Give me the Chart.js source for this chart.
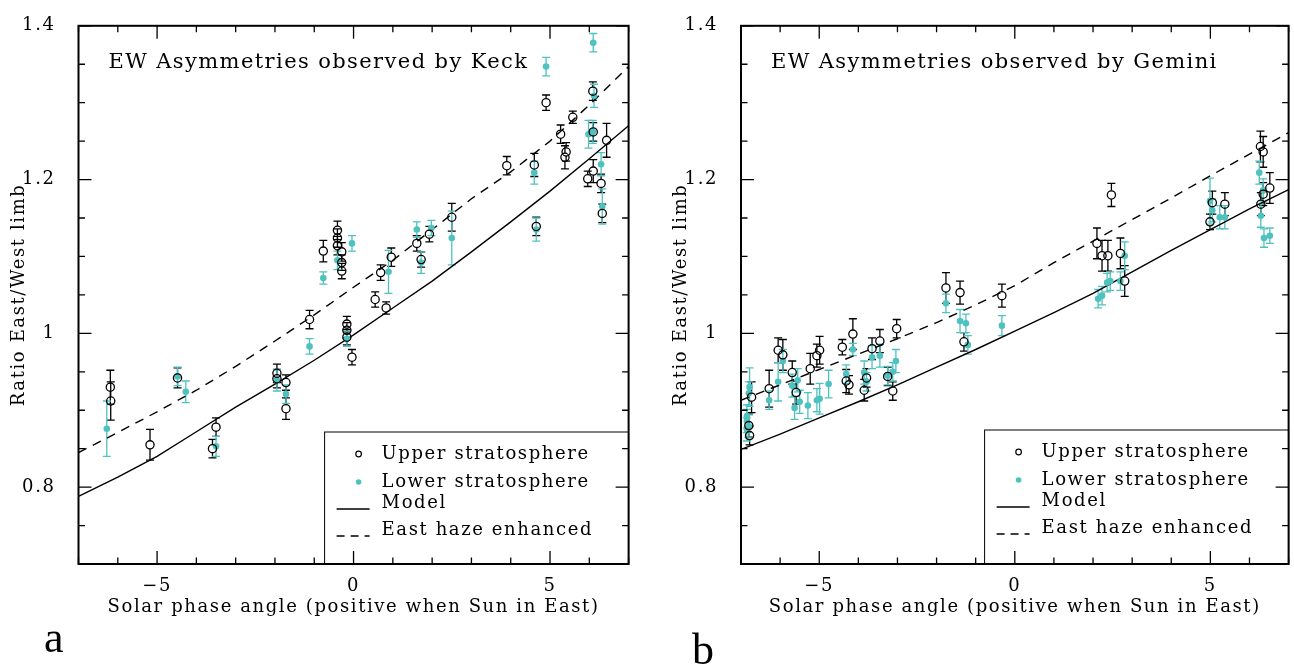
<!DOCTYPE html>
<html>
<head>
<meta charset="utf-8">
<script src="https://cdn.jsdelivr.net/npm/chart.js@4.4.0/dist/chart.umd.min.js"></script>
<style>
  body { margin: 0; background: #fff; width: 1294px; height: 668px; overflow: hidden; position: relative; }
  canvas { position: absolute; top: 0; }
  #chartA { left: 0; }
  #chartB { left: 662px; }
  .letter { position: absolute; font-family: 'Liberation Serif', serif; font-size: 44px; line-height: 44px; color: #000; }
</style>
</head>
<body>
<canvas id="chartA" width="640" height="668"></canvas>
<canvas id="chartB" width="632" height="668"></canvas>
<div class="letter" style="left:44px;top:616px">a</div>
<div class="letter" style="left:692px;top:628px">b</div>
<script>
// ---- data ----
const lineX = [-7, -6, -5, -4, -3, -2, -1, 0, 1, 2, 3, 4, 5, 6, 7];

// panel a: Keck
const keckModel = [0.788, 0.813, 0.840, 0.872, 0.904, 0.934, 0.965, 0.998, 1.033, 1.068, 1.106, 1.145, 1.185, 1.227, 1.270];
const keckHaze  = [0.845, 0.871, 0.898, 0.926, 0.957, 0.990, 1.024, 1.060, 1.095, 1.135, 1.175, 1.210, 1.250, 1.297, 1.347];

const keckUpperX   = [-6.19, -6.18, -5.18, -4.48, -3.50, -3.59, -1.95, -1.95, -1.72, -1.72, -1.12, -0.17, -0.17, -0.17, -0.04, -0.77, -0.41, -0.41, -0.41, -0.30, -0.30, -0.30, 0.55, 0.83, 0.69, 0.96, 1.61, 1.72, 1.93, 2.50, 3.90, 4.60, 4.65, 4.90, 5.27, 5.38, 5.41, 5.58, 6.09, 6.10, 5.96, 6.10, 6.30, 6.33, 6.44];
const keckUpperY   = [0.930, 0.912, 0.855, 0.942, 0.878, 0.850, 0.948, 0.941, 0.936, 0.902, 1.018, 1.012, 1.004, 0.995, 0.969, 1.107, 1.134, 1.124, 1.114, 1.106, 1.092, 1.081, 1.044, 1.033, 1.079, 1.099, 1.117, 1.096, 1.129, 1.151, 1.218, 1.219, 1.139, 1.300, 1.259, 1.229, 1.236, 1.281, 1.315, 1.262, 1.201, 1.211, 1.195, 1.156, 1.251];
const keckUpperErr = [0.022, 0.025, 0.020, 0.013, 0.012, 0.012, 0.012, 0.012, 0.010, 0.014, 0.012, 0.010, 0.010, 0.010, 0.010, 0.014, 0.012, 0.012, 0.012, 0.012, 0.010, 0.010, 0.010, 0.008, 0.010, 0.012, 0.010, 0.010, 0.010, 0.018, 0.012, 0.015, 0.012, 0.010, 0.012, 0.015, 0.012, 0.008, 0.012, 0.012, 0.010, 0.015, 0.012, 0.012, 0.022];

const keckLowerX   = [-6.28, -4.48, -4.27, -3.50, -1.95, -1.72, -1.12, -0.17, -0.77, -0.41, -0.04, 0.89, 1.61, 1.72, 1.98, 2.50, 4.60, 4.65, 4.90, 6.10, 6.12, 5.98, 6.09, 6.30, 6.33];
const keckLowerY   = [0.876, 0.944, 0.924, 0.853, 0.939, 0.921, 0.983, 0.993, 1.072, 1.095, 1.117, 1.080, 1.135, 1.092, 1.137, 1.124, 1.209, 1.135, 1.347, 1.378, 1.309, 1.259, 1.262, 1.220, 1.165];
const keckLowerErr = [0.036, 0.012, 0.014, 0.013, 0.014, 0.012, 0.010, 0.010, 0.008, 0.012, 0.010, 0.028, 0.010, 0.014, 0.010, 0.035, 0.015, 0.015, 0.012, 0.012, 0.015, 0.018, 0.015, 0.015, 0.023];

// panel b: Gemini
const geminiModel = [0.849, 0.869, 0.890, 0.911, 0.933, 0.956, 0.979, 1.003, 1.027, 1.052, 1.080, 1.108, 1.135, 1.162, 1.187];
const geminiHaze  = [0.913, 0.933, 0.953, 0.973, 0.993, 1.014, 1.037, 1.062, 1.092, 1.120, 1.148, 1.176, 1.205, 1.233, 1.261];

const geminiUpperX   = [-6.73, -6.80, -6.78, -6.28, -6.05, -5.93, -5.69, -5.59, -5.23, -5.06, -4.99, -4.41, -4.31, -4.24, -4.14, -3.85, -3.79, -3.65, -3.45, -3.25, -3.12, -3.02, -1.76, -1.40, -1.30, -0.33, 2.10, 2.23, 2.38, 2.47, 2.70, 2.81, 4.99, 5.05, 5.37, 6.28, 6.35, 6.29, 6.35, 6.52];
const geminiUpperY   = [0.917, 0.880, 0.867, 0.928, 0.978, 0.972, 0.949, 0.923, 0.954, 0.971, 0.978, 0.982, 0.938, 0.933, 0.999, 0.926, 0.942, 0.980, 0.990, 0.944, 0.925, 1.006, 1.059, 1.053, 0.989, 1.049, 1.117, 1.101, 1.101, 1.180, 1.104, 1.068, 1.145, 1.170, 1.168, 1.243, 1.236, 1.168, 1.181, 1.189];
const geminiUpperErr = [0.020, 0.015, 0.012, 0.024, 0.016, 0.020, 0.015, 0.015, 0.020, 0.015, 0.018, 0.010, 0.015, 0.012, 0.020, 0.014, 0.012, 0.014, 0.015, 0.012, 0.012, 0.012, 0.020, 0.015, 0.012, 0.015, 0.020, 0.020, 0.020, 0.015, 0.020, 0.020, 0.010, 0.015, 0.015, 0.020, 0.020, 0.015, 0.015, 0.020];

const geminiLowerX   = [-6.78, -6.80, -6.85, -6.85, -6.80, -6.85, -6.28, -6.05, -5.93, -5.69, -5.55, -5.63, -5.50, -5.29, -5.06, -4.99, -4.76, -4.31, -4.14, -3.85, -3.79, -3.65, -3.45, -3.25, -3.12, -3.04, -1.76, -1.40, -1.25, -1.20, -0.33, 2.13, 2.23, 2.36, 2.44, 2.70, 2.81, 4.99, 5.05, 5.24, 5.37, 6.25, 6.35, 6.29, 6.37, 6.52];
const geminiLowerY   = [0.930, 0.922, 0.892, 0.886, 0.879, 0.875, 0.913, 0.937, 0.964, 0.932, 0.939, 0.903, 0.911, 0.906, 0.913, 0.915, 0.934, 0.947, 0.979, 0.949, 0.937, 0.969, 0.971, 0.945, 0.950, 0.964, 1.039, 1.016, 1.013, 0.985, 1.010, 1.045, 1.049, 1.066, 1.068, 1.068, 1.101, 1.172, 1.160, 1.151, 1.151, 1.209, 1.186, 1.153, 1.124, 1.127];
const geminiLowerErr = [0.025, 0.015, 0.015, 0.015, 0.015, 0.015, 0.012, 0.025, 0.015, 0.015, 0.015, 0.015, 0.015, 0.017, 0.015, 0.020, 0.018, 0.012, 0.008, 0.015, 0.012, 0.015, 0.015, 0.012, 0.012, 0.015, 0.012, 0.015, 0.012, 0.012, 0.013, 0.012, 0.012, 0.012, 0.012, 0.012, 0.018, 0.030, 0.015, 0.015, 0.015, 0.015, 0.015, 0.015, 0.012, 0.010];

const LEGEND_LABELS = ['Upper stratosphere', 'Lower stratosphere', 'Model', 'East haze enhanced'];

// ---- look ----
const SERIF = "'DejaVu Serif', serif";
const CYAN = '#4EC2BF';
const BLACK = '#000';
const UPPER_R = 4.1, LOWER_R = 3.3;
const SPACING = '1.6px'; // the original plot font is wide, widen DejaVu a bit

const zip = (xs, ys) => xs.map((x, i) => ({ x, y: ys[i] }));

// frame with inside ticks on all four sides, error bars, inset title and legend
const framePlugin = {
  id: 'frame',
  beforeDraw(chart) {
    chart.ctx.letterSpacing = SPACING;
  },
  beforeDatasetsDraw(chart) {
    const { ctx } = chart;
    const { x, y } = chart.scales;
    ctx.save();
    ctx.lineWidth = 1.3;
    chart.data.datasets.forEach((ds) => {
      if (!ds.errors) return;
      ctx.strokeStyle = ds.borderColor;
      const gap = ds.openMarker ? UPPER_R : 0;
      ds.data.forEach((p, i) => {
        const px = x.getPixelForValue(p.x);
        const py = y.getPixelForValue(p.y);
        const top = y.getPixelForValue(p.y + ds.errors[i]);
        const bot = y.getPixelForValue(p.y - ds.errors[i]);
        ctx.beginPath();
        ctx.moveTo(px, top); ctx.lineTo(px, py - gap);
        ctx.moveTo(px, py + gap); ctx.lineTo(px, bot);
        ctx.moveTo(px - 4, top); ctx.lineTo(px + 4, top);
        ctx.moveTo(px - 4, bot); ctx.lineTo(px + 4, bot);
        ctx.stroke();
      });
    });
    ctx.restore();
  },
  afterDraw(chart, args, opts) {
    const { ctx, chartArea: a } = chart;
    const { x, y } = chart.scales;
    ctx.save();
    ctx.strokeStyle = BLACK;
    // ticks
    ctx.lineWidth = 1.3;
    ctx.beginPath();
    x.ticks.forEach((t) => {
      const px = x.getPixelForValue(t.value);
      const len = t.label ? 13 : 6.5;
      ctx.moveTo(px, a.bottom); ctx.lineTo(px, a.bottom - len);
      ctx.moveTo(px, a.top); ctx.lineTo(px, a.top + len);
    });
    y.ticks.forEach((t) => {
      const py = y.getPixelForValue(t.value);
      const len = t.label ? 13 : 6.5;
      ctx.moveTo(a.left, py); ctx.lineTo(a.left + len, py);
      ctx.moveTo(a.right, py); ctx.lineTo(a.right - len, py);
    });
    ctx.stroke();
    // box
    ctx.lineWidth = 2;
    ctx.strokeRect(a.left, a.top, a.right - a.left, a.bottom - a.top);

    // inset title
    ctx.fillStyle = BLACK;
    ctx.font = '21px ' + SERIF;
    ctx.letterSpacing = '1.4px';
    ctx.textBaseline = 'middle';
    ctx.textAlign = 'left';
    ctx.fillText(opts.title, a.left + 30, 63);

    // legend box
    const bx = a.right - 304, by = a.bottom - opts.legendH;
    ctx.lineWidth = 1;
    ctx.strokeRect(bx, by, a.right - bx, a.bottom - by);
    ctx.font = '18px ' + SERIF;
    ctx.letterSpacing = SPACING;
    const tx = bx + 57, mx = bx + 34;
    const rows = [by + 22, by + 50, by + 71, by + 98];
    LEGEND_LABELS.forEach((label, i) => ctx.fillText(label, tx, rows[i]));
    ctx.lineWidth = 1.2;
    ctx.beginPath(); ctx.arc(mx, rows[0], 2.8, 0, Math.PI * 2); ctx.stroke();
    ctx.fillStyle = CYAN;
    ctx.beginPath(); ctx.arc(mx, rows[1], 2.8, 0, Math.PI * 2); ctx.fill();
    ctx.lineWidth = 1.3;
    ctx.beginPath(); ctx.moveTo(bx + 12, rows[2] + 6); ctx.lineTo(bx + 45, rows[2] + 6); ctx.stroke();
    ctx.setLineDash([8, 6]);
    ctx.beginPath(); ctx.moveTo(bx + 12, rows[3] + 6); ctx.lineTo(bx + 45, rows[3] + 6); ctx.stroke();
    ctx.restore();
  },
};

function makeChart(id, cfg) {
  return new Chart(document.getElementById(id), {
    type: 'scatter',
    data: {
      datasets: [
        { data: zip(cfg.upperX, cfg.upperY), errors: cfg.upperErr, openMarker: true, pointStyle: 'circle', pointRadius: UPPER_R, pointBorderWidth: 1.3, borderColor: BLACK, pointBackgroundColor: 'rgba(0,0,0,0)', pointBorderColor: BLACK },
        { data: zip(cfg.lowerX, cfg.lowerY), errors: cfg.lowerErr, pointStyle: 'circle', pointRadius: LOWER_R, pointBorderWidth: 0, borderColor: CYAN, pointBackgroundColor: CYAN },
        { data: zip(lineX, cfg.model), showLine: true, pointRadius: 0, borderColor: BLACK, borderWidth: 1.4, tension: 0 },
        { data: zip(lineX, cfg.haze), showLine: true, pointRadius: 0, borderColor: BLACK, borderWidth: 1.4, borderDash: [9, 7], tension: 0 },
      ],
    },
    options: {
      responsive: false, animation: false, devicePixelRatio: 1,
      layout: { padding: { top: 14, right: cfg.padRight, bottom: 0, left: 0 } },
      plugins: { legend: { display: false }, tooltip: { enabled: false }, frame: { title: cfg.title, legendH: cfg.legendH } },
      scales: {
        x: {
          type: 'linear', min: -7, max: 7,
          grid: { display: false }, border: { display: false },
          ticks: { stepSize: 1, autoSkip: false, maxRotation: 0, padding: 4, color: BLACK, font: { family: SERIF, size: 18 },
            callback: (v) => (v % 5 === 0 ? (v < 0 ? '\u2212' + Math.abs(v) : String(v)) : '') },
          title: { display: true, text: 'Solar phase angle (positive when Sun in East)', color: BLACK, font: { family: SERIF, size: 18 }, padding: { top: 0, bottom: 50 } },
          afterFit: (s) => { s.height = 104; },
        },
        y: {
          type: 'linear', min: 0.7, max: 1.4,
          grid: { display: false }, border: { display: false },
          ticks: { stepSize: 0.05, autoSkip: false, padding: 15, color: BLACK, font: { family: SERIF, size: 18 },
            callback: (v) => { const r = Math.round(v * 100); return r % 20 === 0 ? String(r / 100) : ''; } },
          title: { display: true, text: 'Ratio East/West limb', color: BLACK, font: { family: SERIF, size: 18 }, padding: { top: 9, bottom: 0 } },
          afterFit: (s) => { s.width = cfg.yWidth; },
        },
      },
    },
    plugins: [framePlugin],
  });
}

makeChart('chartA', {
  title: 'EW Asymmetries observed by Keck', legendH: 132, padRight: 11.4, yWidth: 78.5,
  upperX: keckUpperX, upperY: keckUpperY, upperErr: keckUpperErr,
  lowerX: keckLowerX, lowerY: keckLowerY, lowerErr: keckLowerErr,
  model: keckModel, haze: keckHaze,
});
makeChart('chartB', {
  title: 'EW Asymmetries observed by Gemini', legendH: 134, padRight: 2, yWidth: 79,
  upperX: geminiUpperX, upperY: geminiUpperY, upperErr: geminiUpperErr,
  lowerX: geminiLowerX, lowerY: geminiLowerY, lowerErr: geminiLowerErr,
  model: geminiModel, haze: geminiHaze,
});
</script>
</body>
</html>
